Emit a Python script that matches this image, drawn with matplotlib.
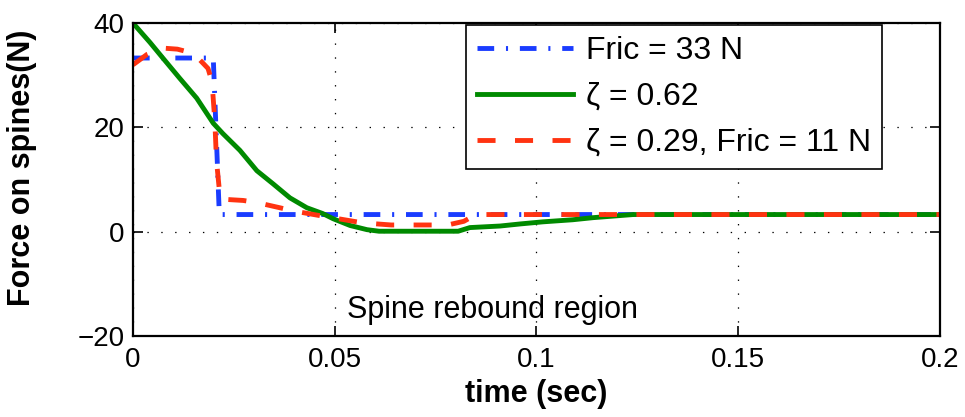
"""
Spine force vs time for three friction / damping settings
"""
import matplotlib
matplotlib.use('Agg')
import matplotlib.pyplot as plt

# Fric = 33 N
t_fric = [0, 0.0199, 0.0214, 0.2]
f_fric = [33.3, 33.3, 3.3, 3.3]

# zeta = 0.62
t_damp = [0, 0.0042, 0.0074, 0.0116, 0.0158, 0.0199, 0.0223, 0.0265, 0.0307,
          0.0347, 0.0389, 0.0431, 0.047, 0.0496, 0.0538, 0.058, 0.061, 0.0806,
          0.0835, 0.091, 0.096, 0.1016, 0.109, 0.114, 0.124, 0.2]
f_damp = [40, 36.3, 33.3, 29.4, 25.6, 20.8, 18.8, 15.6, 11.7,
          9.2, 6.5, 4.6, 3.5, 2.5, 1.2, 0.4, 0.1, 0.1,
          0.8, 1.1, 1.5, 1.9, 2.3, 2.7, 3.3, 3.3]

# zeta = 0.29, Fric = 11 N
t_both = [0, 0.0035, 0.0074, 0.011, 0.014, 0.0165, 0.0186, 0.0196, 0.0203,
          0.0207, 0.0216, 0.023, 0.0273, 0.0307, 0.0364, 0.0397, 0.047, 0.057,
          0.064, 0.078, 0.082, 0.085, 0.2]
f_both = [32, 34, 35.2, 35, 34.4, 33, 31.3, 28.7, 21,
          13.6, 6.5, 6.2, 6.0, 5.6, 4.6, 4.0, 3.0, 1.7,
          1.3, 1.3, 2.0, 3.3, 3.3]

labels = ['Fric = 33 N', 'ζ = 0.62', 'ζ = 0.29, Fric = 11 N']
xticks = [0, 0.05, 0.1, 0.15, 0.2]
xticklabels = ['0', '0.05', '0.1', '0.15', '0.2']
yticks = [-20, 0, 20, 40]
yticklabels = ['\u221220', '0', '20', '40']

plt.rcParams['font.family'] = ['Liberation Sans', 'DejaVu Sans']
plt.rcParams['lines.scale_dashes'] = False

fig = plt.figure(figsize=(9.65, 4.17), dpi=100)
ax = fig.add_axes([0.1378, 0.194, 0.8362, 0.7507])

l1, = ax.plot(t_fric, f_fric, color='#1a3cff', lw=3.5, label=labels[0])
l1.set_dashes([12, 8.5, 1.5, 8.5])
l2, = ax.plot(t_damp, f_damp, color='#008a00', lw=3.5, label=labels[1])
l3, = ax.plot(t_both, f_both, color='#ff3311', lw=3.5, label=labels[2])
l3.set_dashes([13, 14])

ax.set_xlim(0, 0.2)
ax.set_ylim(-20, 40)
ax.set_xticks(xticks)
ax.set_xticklabels(xticklabels)
ax.set_yticks(yticks)
ax.set_yticklabels(yticklabels)
ax.tick_params(direction='in', length=7, width=1.2, labelsize=20,
               top=True, right=True)
ax.tick_params(axis='x', pad=8)
ax.tick_params(axis='y', pad=6)
for s in ax.spines.values():
    s.set_linewidth(1.6)

ax.grid(True, color='black', linestyle=(0, (1, 9)), linewidth=0.9)

ax.set_xlabel('time (sec)', fontsize=22, fontweight='bold', labelpad=4)
ax.set_ylabel('Force on spines(N)', fontsize=22, fontweight='bold')
ax.yaxis.set_label_coords(-0.119, 0.537)

ax.text(0.053, -16.5, 'Spine rebound region', fontsize=22, va='baseline')

leg = ax.legend(loc='upper right', bbox_to_anchor=(0.928, 0.994),
                borderaxespad=0, fontsize=23, handlelength=3.0,
                handletextpad=0.4, labelspacing=0.5, borderpad=0.35,
                fancybox=False, framealpha=1, edgecolor='black')
leg.get_frame().set_linewidth(1.2)

plt.savefig('out.png', dpi=100)
